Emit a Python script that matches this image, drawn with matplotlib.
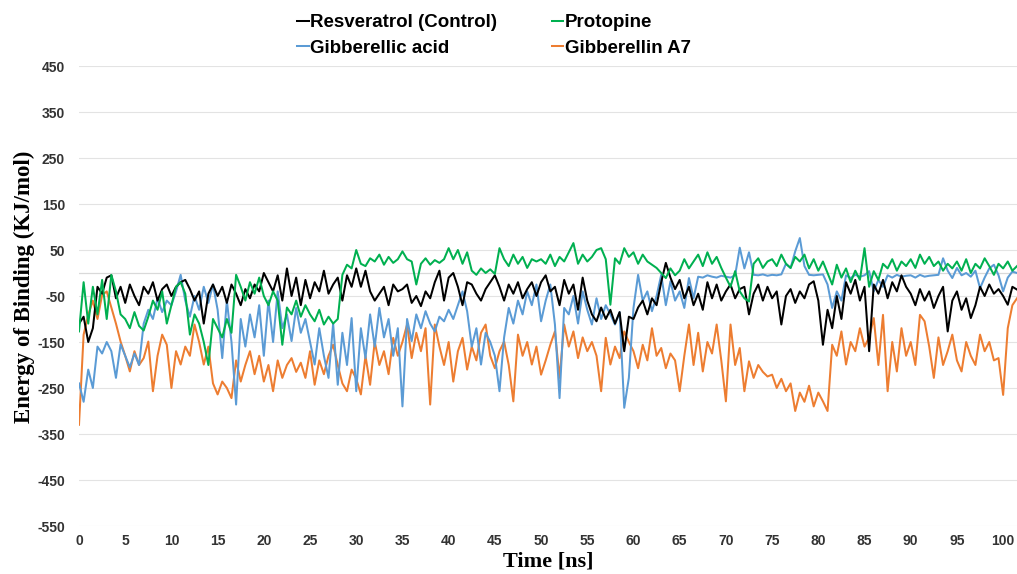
import numpy as np
import matplotlib
matplotlib.use('Agg')
import matplotlib.pyplot as plt

plt.rcParams['axes.unicode_minus'] = False

# binding energy (KJ/mol), one value every 0.5 ns
time_ns = np.arange(0, 101.51, 0.5)

resveratrol = [
    -110, -95, -150, -120, -30, -45, -10, -5, -55, -30,
    -65, -25, -50, -70, -30, -45, -20, -60, -35, -25,
    -50, -30, -20, -15, -35, -60, -40, -110, -45, -25,
    -50, -30, -65, -25, -45, -70, -35, -55, -25, -40,
    0, -20, -40, -5, -60, 10, -50, -10, -70, -15,
    -55, -20, -40, 5, -45, -25, -10, -60, -5, -30,
    10, -30, 5, -40, -60, -45, -30, -70, -25, -40,
    -35, -25, -65, -50, -72, -40, -55, -20, 5, -60,
    -10, 0, -30, -70, -20, -25, -45, -60, -35, -20,
    -5, -30, -60, -25, -45, -20, -55, -35, -20, -50,
    -20, -5, -40, -30, -70, -15, -45, -25, -80, -10,
    -60, -90, -105, -75, -100, -80, -110, -85, -170, -95,
    -100, -75, -60, -90, -55, -70, -20, 22, -10, -35,
    -15, -55, -30, -70, -45, -80, -20, -55, -25, -60,
    -40, -25, -55, -35, -30, -90, -45, -25, -60, -30,
    -55, -40, -112, -50, -35, -65, -40, -55, -25, -18,
    -60, -156, -80, -120, -50, -100, -20, -45, -15, -60,
    -30, -170, -25, -45, -15, -55, -20, -40, -5, -30,
    -45, -70, -35, -60, -40, -76, -50, -30, -127, -60,
    -40, -80, -55, -98, -70, -30, -50, -25, -45, -35,
    -50, -69, -30, -36,
]

protopine = [
    -127, -20, -110, -30, -90, -15, -100, -4, -40, -90,
    -100, -120, -85, -115, -125, -95, -60, -80, -40, -110,
    -70, -30, -20, -45, -134, -90, -110, -150, -200, -100,
    -120, -140, -100, -130, -4, -30, -60, -20, -45, -10,
    -50, -70, -40, -60, -156, -75, -90, -60, -95, -70,
    -90, -105, -80, -112, -95, -110, -100, -4, 18, 10,
    50, 20, 15, 32, 25, 40, 18, 35, 22, 30,
    47, 30, 25, -25, 20, 32, 18, 28, 22, 30,
    54, 30, 50, 20, 45, 5, -4, 10, 0, 8,
    -2, 54, 30, 15, 40, 20, 35, 11, 30, 25,
    30, 20, 40, 15, 35, 25, 45, 65, 20, 40,
    25, 35, 50, 54, 30, -69, 32, 20, 54, 35,
    45, 20, 40, 25, 18, 11, 0, -11, 10, -5,
    5, 30, 10, 25, 40, 15, 45, 20, 35, 11,
    -10, -30, 4, -40, -55, -62, 20, 32, 11, 25,
    30, 15, 40, 20, 11, 35, 25, 40, 10, 30,
    5, 25, 0, -25, 18, -10, 10, -20, 5, -15,
    54, -30, 4, -15, 20, 10, 30, 5, 25, 15,
    30, 11, 40, 20, 35, 15, 25, 5, 20, 10,
    25, 5, 30, 0, 20, 10, 32, 15, -4, 20,
    10, 25, 5, 15,
]

gibberellic_acid = [
    -240, -280, -210, -250, -160, -175, -150, -170, -228, -155,
    -180, -205, -175, -200, -110, -80, -100, -55, -85, -60,
    -70, -40, -4, -60, -95, -50, -80, -30, -65, -25,
    -80, -185, -60, -150, -286, -100, -160, -90, -140, -70,
    -180, -60, -150, -40, -120, -90, -148, -76, -130, -100,
    -150, -199, -120, -180, -228, -110, -243, -130, -200, -98,
    -257, -120, -185, -90, -160, -76, -140, -100, -180, -120,
    -290, -100, -148, -90, -120, -83, -110, -127, -95, -105,
    -80, -100, -70, -40, -83, -160, -120, -199, -130, -150,
    -180, -257, -140, -76, -110, -60, -90, -40, -70, -25,
    -105, -60, -25, -112, -272, -76, -90, -50, -110, -40,
    -80, -112, -55, -100, -70, -90, -112, -85, -293, -228,
    -76, -4, -60, -40, -83, -50, -4, -70, -18, -60,
    -40, -76, -11, -55, -8, -10, -5, -8, -10, -6,
    -8, -10, -5, 55, 10, 45, -4, -5, -3, -6,
    -4, -5, -3, 20, 11, 47, 76, 15, -4, -5,
    -4, -3, -25, -76, -40, -60, -5, -11, -4, -8,
    -5, 4, -40, -15, -30, -5, -10, -4, -8, -6,
    -5, -10, -4, -8, -6, -5, -4, 32, 5, -11,
    11, -5, 0, -8, 5, -33, -10, 10, 18, -5,
    -40, -10, 3, 0,
]

gibberellin_a7 = [
    -330, -134, -91, -60, -100, -48, -40, -75, -110, -149,
    -180, -214, -170, -200, -185, -149, -257, -180, -134, -156,
    -250, -170, -199, -160, -180, -112, -150, -199, -160, -240,
    -264, -236, -250, -272, -190, -236, -200, -170, -220, -180,
    -236, -200, -257, -190, -228, -200, -185, -215, -195, -228,
    -170, -243, -190, -220, -180, -156, -200, -240, -257, -210,
    -230, -264, -180, -243, -149, -200, -170, -220, -141, -180,
    -150, -112, -185, -130, -170, -120, -286, -112, -160, -200,
    -150, -236, -170, -141, -210, -160, -190, -130, -112, -180,
    -207, -170, -149, -200, -279, -134, -180, -150, -199, -160,
    -221, -190, -156, -127, -228, -112, -160, -127, -185, -140,
    -170, -150, -180, -257, -141, -199, -160, -185, -127, -150,
    -170, -207, -156, -190, -120, -180, -163, -207, -175, -190,
    -257, -180, -112, -200, -130, -214, -150, -175, -112, -190,
    -279, -112, -200, -163, -257, -192, -228, -200, -215, -225,
    -221, -250, -230, -257, -240, -300, -260, -280, -245, -290,
    -260, -279, -300, -156, -180, -127, -199, -150, -170, -120,
    -160, -140, -98, -200, -91, -257, -150, -214, -120, -180,
    -150, -200, -91, -105, -160, -228, -140, -200, -170, -134,
    -190, -214, -150, -180, -200, -134, -170, -150, -190, -185,
    -265, -120, -70, -55,
]

series = [
    ('Resveratrol (Control)', resveratrol, '#000000'),
    ('Gibberellic acid', gibberellic_acid, '#5b9bd5'),
    ('Protopine', protopine, '#00b050'),
    ('Gibberellin A7', gibberellin_a7, '#ed7d31'),
]

y_ticks = np.arange(-550, 451, 100)
x_ticks = np.arange(0, 101, 5)

fig = plt.figure(figsize=(10.17, 5.74), dpi=100)
ax = fig.add_axes([79 / 1017, 48 / 574, 938 / 1017, 460 / 574])

for y in y_ticks:
    ax.axhline(y, color='#e3e3e3', lw=0.8, zorder=0)
ax.axhline(0, color='#d9d9d9', lw=0.9, zorder=0)

# draw order: blue and orange underneath, black and green on top
order = [3, 1, 0, 2]
handles = {}
for i in order:
    name, vals, col = series[i]
    line, = ax.plot(time_ns, vals, color=col, lw=1.45, label=name, zorder=2)
    handles[name] = line

ax.set_xlim(0, 101.5)
ax.set_ylim(-550, 450)
ax.set_xticks(x_ticks)
ax.set_yticks(y_ticks)
for s in ax.spines.values():
    s.set_visible(False)
ax.tick_params(length=0, labelsize=10, labelcolor='#333333')
ax.tick_params(axis='y', pad=10)
ax.tick_params(axis='x', pad=6)
for lab in ax.get_xticklabels() + ax.get_yticklabels():
    lab.set_fontweight('bold')
    lab.set_family('Liberation Sans')

ax.set_xlabel('Time [ns]', family='Liberation Serif', fontweight='bold', fontsize=16, labelpad=2)
ax.set_ylabel('Energy of Binding (KJ/mol)', family='Liberation Serif', fontweight='bold', fontsize=16.5)
ax.yaxis.set_label_coords(-0.047, 0.52)

fig.legend([handles[s[0]] for s in series], [s[0] for s in series],
           loc='upper left', bbox_to_anchor=(286 / 1017, 1 - 3 / 574), ncol=2,
           frameon=False, handlelength=0.6, handletextpad=0.1, columnspacing=2.9,
           labelspacing=0.45, borderaxespad=0.2,
           prop={'family': 'Liberation Sans', 'weight': 'bold', 'size': 13.5})

fig.savefig('out.png', dpi=100)
